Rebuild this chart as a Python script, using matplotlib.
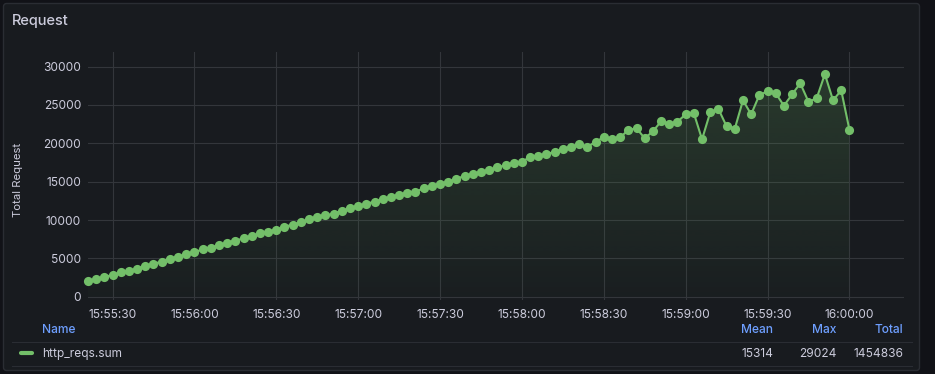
import matplotlib
matplotlib.use("Agg")
import matplotlib.pyplot as plt
import matplotlib.dates as mdates
from matplotlib.patches import FancyBboxPatch
from matplotlib.lines import Line2D
from matplotlib.transforms import IdentityTransform
import numpy as np
import pandas as pd

# http_reqs.sum, one point every 3 seconds
req_values = [2047, 2269, 2569, 2830, 3182, 3390, 3651, 4003, 4303, 4564,
              4955, 5216, 5529, 5790, 6181, 6390, 6703, 7042, 7302, 7615,
              7876, 8267, 8476, 8737, 9128, 9389, 9702, 10093, 10393, 10614,
              10823, 11214, 11527, 11788, 12127, 12388, 12701, 12962, 13301, 13562,
              13692, 14135, 14474, 14735, 14996, 15387, 15739, 16000, 16261, 16483,
              16874, 17135, 17474, 17604, 18217, 18386, 18569, 18908, 19221, 19560,
              19873, 19521, 20212, 20786, 20603, 20786, 21738, 21960, 20655, 21568,
              22872, 22520, 22820, 23785, 23915, 20525, 24046, 24476, 22220, 21907,
              25610, 23785, 26302, 26784, 26523, 24906, 26393, 27827, 25428, 25871,
              29024, 25610, 26914, 21777]
start_time = "2024-01-01 15:55:21"
end_view = "2024-01-01 16:00:20"
series_name = "http_reqs.sum"
stat_names = ["Mean", "Max", "Total"]
stat_values = ["15314", "29024", "1454836"]

page_bg = "#111217"
panel_bg = "#181b1f"
grid_col = "#33363b"
text_col = "#ccccdc"
blue = "#6e9fff"
green = "#73bf69"

plt.rcParams['font.family'] = ['Inter', 'DejaVu Sans']

times = pd.date_range(start_time, periods=len(req_values), freq="3s")

fig = plt.figure(figsize=(9.35, 3.74), dpi=100, facecolor=page_bg)
W, H = 935, 374

# panel box (pixel coords)
panel = FancyBboxPatch((3.5, 3.5), 916, 367, boxstyle="round,pad=0,rounding_size=3",
                       transform=IdentityTransform(), facecolor=panel_bg,
                       edgecolor="#2a2d33", linewidth=1, zorder=-10)
fig.patches.append(panel)

fig.text(12 / W, 1 - 21 / H, "Request", color=text_col, fontsize=10.5,
         fontweight="medium", ha="left", va="center")

ax = fig.add_axes([88 / W, 1 - 300 / H, (904 - 88) / W, (300 - 52) / H])
ax.set_facecolor("none")
for s in ax.spines.values():
    s.set_visible(False)

x0 = mdates.date2num(times[0])
x1 = mdates.date2num(times[-1])

# gradient fill under the line
fb = ax.fill_between(times, req_values, 0, color="none", linewidth=0)
grad = np.zeros((256, 1, 4))
grad[:, 0, :3] = matplotlib.colors.to_rgb(green)
grad[:, 0, 3] = np.linspace(0.02, 0.19, 256)
im = ax.imshow(grad, extent=[x0, x1, 0, max(req_values)], origin="lower",
               aspect="auto", interpolation="bilinear", zorder=1)
im.set_clip_path(fb.get_paths()[0], transform=ax.transData)

ax.plot(times, req_values, color=green, linewidth=1.5, marker="o",
        markersize=6.6, markeredgewidth=0, zorder=3, clip_on=False)

ax.set_xlim(x0, mdates.date2num(pd.Timestamp(end_view)))
ax.set_ylim(-430, 31910)
ax.set_yticks([0, 5000, 10000, 15000, 20000, 25000, 30000])
ax.xaxis.set_major_locator(mdates.SecondLocator(bysecond=[0, 30]))
ax.xaxis.set_major_formatter(mdates.DateFormatter("%H:%M:%S"))
ax.grid(True, color=grid_col, linewidth=0.8)
ax.set_axisbelow(True)
ax.tick_params(axis="both", length=0, colors=text_col, labelsize=8.6)
ax.tick_params(axis="x", pad=6.5)
ax.tick_params(axis="y", pad=5)
ax.set_ylabel("Total Request", color=text_col, fontsize=8.2)
ax.yaxis.set_label_coords((23 - 88) / 816, 0.484)

# legend table
fig.text(42 / W, 1 - 330 / H, "Name", color=blue, fontsize=8.6, fontweight="medium",
         ha="left", va="center")
stat_x = [773, 836.5, 903.5]
for nm, val, xp in zip(stat_names, stat_values, stat_x):
    fig.text(xp / W, 1 - 330 / H, nm, color=blue, fontsize=8.6, fontweight="medium",
             ha="right", va="center")
    fig.text(xp / W, 1 - 354 / H, val, color=text_col, fontsize=8.6,
             ha="right", va="center")
for yy in [341.5, 365.5]:
    fig.add_artist(Line2D([12 / W, 912 / W], [1 - yy / H, 1 - yy / H],
                          color="#2a2d33", linewidth=0.8))
fig.add_artist(Line2D([21 / W, 32 / W], [1 - 353 / H, 1 - 353 / H], color=green,
                      linewidth=3, solid_capstyle="round"))
fig.text(42 / W, 1 - 354 / H, series_name, color=text_col, fontsize=8.6,
         ha="left", va="center")

fig.savefig("out.png", dpi=100, facecolor=page_bg)
